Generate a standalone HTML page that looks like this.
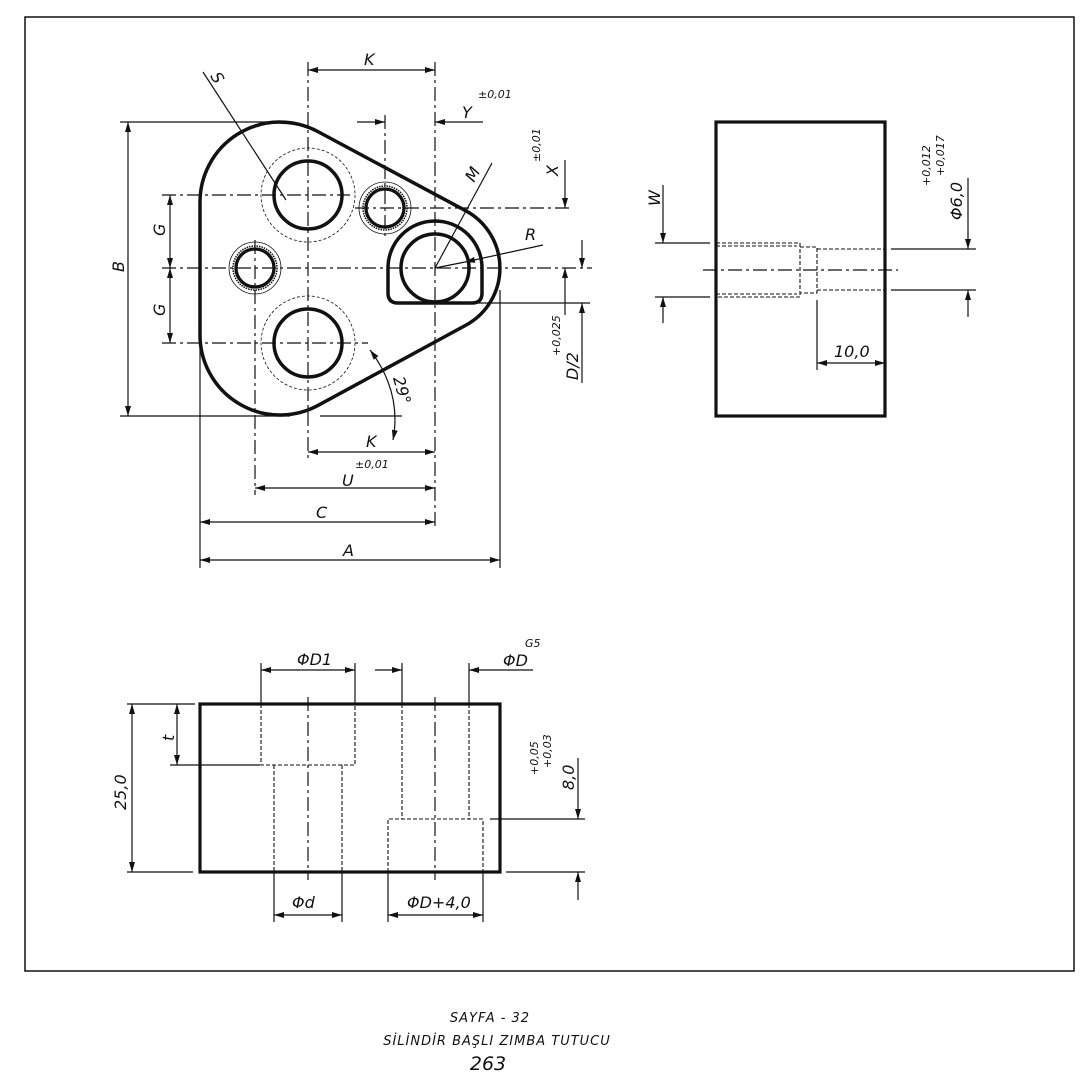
<!DOCTYPE html>
<html><head><meta charset="utf-8"><style>
html,body{margin:0;padding:0;background:#fff;}
svg{display:block;}
text{font-family:"DejaVu Sans","Liberation Sans",sans-serif;font-style:italic;fill:#111;}
</style></head><body>
<svg width="1080" height="1080" viewBox="0 0 1080 1080" xmlns="http://www.w3.org/2000/svg">
<defs>
<marker id="a" viewBox="0 0 10 6" refX="10" refY="3" markerWidth="10" markerHeight="6" orient="auto-start-reverse" markerUnits="userSpaceOnUse"><path d="M0,0 L10,3 L0,6 z" fill="#111"/></marker>
</defs>
<rect x="25" y="17" width="1049" height="954" fill="none" stroke="#111" stroke-width="1.5"/>

<!-- MAIN VIEW -->
<g stroke="#111" fill="none">
<path d="M200 202 A80 80 0 0 1 317.7 131.5 L465.6 210.7 A65 65 0 0 1 466 325.1 L318.2 405.3 A80 80 0 0 1 200 335 Z" stroke-width="3.5"/>
<circle cx="308" cy="195" r="34" stroke-width="3.5"/>
<circle cx="308" cy="343" r="34" stroke-width="3.5"/>
<circle cx="308" cy="195" r="47" stroke-width="0.8" stroke-dasharray="3,2"/>
<circle cx="308" cy="343" r="47" stroke-width="0.8" stroke-dasharray="3,2"/>
<circle cx="255" cy="268" r="19" stroke-width="3.3"/>
<circle cx="255" cy="268" r="22" stroke-width="1.5" stroke-dasharray="1.5,1"/>
<circle cx="255" cy="268" r="26" stroke-width="0.8"/>
<circle cx="385" cy="208" r="19" stroke-width="3.3"/>
<circle cx="385" cy="208" r="22" stroke-width="1.5" stroke-dasharray="1.5,1"/>
<circle cx="385" cy="208" r="26" stroke-width="0.8"/>
<circle cx="435" cy="268" r="34" stroke-width="3.5"/>
<path d="M388 268 A47 47 0 0 1 482 268 L482 293 Q482 303 472 303 L398 303 Q388 303 388 293 Z" stroke-width="3.5"/>

<g stroke-width="1.2" stroke-dasharray="14,4,3,4">
<line x1="162" y1="268" x2="592" y2="268"/>
<line x1="308" y1="62" x2="308" y2="460"/>
<line x1="435" y1="62" x2="435" y2="530"/>
<line x1="255" y1="240" x2="255" y2="495"/>
<line x1="385" y1="115" x2="385" y2="240"/>
<line x1="162" y1="195" x2="350" y2="195"/>
<line x1="162" y1="343" x2="368" y2="343"/>
<line x1="355" y1="208" x2="570" y2="208"/>
</g>
<g stroke-width="1.2">
<line x1="200" y1="335" x2="200" y2="568"/>
<line x1="500" y1="290" x2="500" y2="568"/>
<line x1="120" y1="122" x2="290" y2="122"/>
<line x1="120" y1="416" x2="290" y2="416"/>
<line x1="320" y1="416" x2="402" y2="416"/>
<line x1="465" y1="303" x2="590" y2="303"/>
<line x1="128" y1="122" x2="128" y2="416" marker-start="url(#a)" marker-end="url(#a)"/>
<line x1="170" y1="195" x2="170" y2="268" marker-start="url(#a)" marker-end="url(#a)"/>
<line x1="170" y1="268" x2="170" y2="343" marker-start="url(#a)" marker-end="url(#a)"/>
<line x1="308" y1="70" x2="435" y2="70" marker-start="url(#a)" marker-end="url(#a)"/>
<line x1="357" y1="122" x2="385" y2="122" marker-end="url(#a)"/>
<line x1="483" y1="122" x2="435" y2="122" marker-end="url(#a)"/>
<line x1="203" y1="72" x2="286" y2="200"/>
<line x1="492" y1="163" x2="435" y2="268"/>
<line x1="543" y1="245" x2="465" y2="262" marker-end="url(#a)"/>
<line x1="465" y1="262" x2="435" y2="268"/>
<line x1="565" y1="160" x2="565" y2="208" marker-end="url(#a)"/>
<line x1="565" y1="315" x2="565" y2="268" marker-end="url(#a)"/>
<line x1="582" y1="240" x2="582" y2="268" marker-end="url(#a)"/>
<line x1="582" y1="383" x2="582" y2="303" marker-end="url(#a)"/>
<path d="M370 350 Q402 392 393 440" marker-start="url(#a)" marker-end="url(#a)"/>
<line x1="308" y1="452" x2="435" y2="452" marker-start="url(#a)" marker-end="url(#a)"/>
<line x1="255" y1="488" x2="435" y2="488" marker-start="url(#a)" marker-end="url(#a)"/>
<line x1="200" y1="522" x2="435" y2="522" marker-start="url(#a)" marker-end="url(#a)"/>
<line x1="200" y1="560" x2="500" y2="560" marker-start="url(#a)" marker-end="url(#a)"/>
</g>
</g>
<g font-size="16">
<text x="364" y="65">K</text>
<text x="462" y="118">Y</text>
<text x="478" y="98" font-size="11">±0,01</text>
<text x="366" y="447">K</text>
<text x="342" y="486">U</text>
<text x="355" y="468" font-size="11">±0,01</text>
<text x="316" y="518">C</text>
<text x="343" y="556">A</text>
<text x="525" y="240">R</text>
<text transform="translate(210,76) rotate(60)">S</text>
<text transform="translate(474,183) rotate(-60)">M</text>
<text transform="translate(124,272) rotate(-90)">B</text>
<text transform="translate(165,236) rotate(-90)">G</text>
<text transform="translate(165,316) rotate(-90)">G</text>
<text transform="translate(558,176) rotate(-90)">X</text>
<text transform="translate(540,162) rotate(-90)" font-size="11">±0,01</text>
<text transform="translate(578,380) rotate(-90)">D/2</text>
<text transform="translate(560,356) rotate(-90)" font-size="11">+0,025</text>
<text transform="translate(393,378) rotate(75)">29°</text>
</g>

<!-- RIGHT VIEW -->
<g stroke="#111" fill="none">
<rect x="716" y="122" width="169" height="294" stroke-width="3.2"/>
<g stroke-width="1.1" stroke-dasharray="4,2">
<path d="M716 243 L800 243 L800 297 L716 297"/>
<path d="M716 246 L797 246 M716 294 L797 294"/>
<path d="M800 247 L817 247 L817 293 L800 293"/>
<line x1="817" y1="249" x2="885" y2="249"/>
<line x1="817" y1="290" x2="885" y2="290"/>
</g>
<line x1="703" y1="270" x2="898" y2="270" stroke-width="1.2" stroke-dasharray="14,4,3,4"/>
<g stroke-width="1.2">
<line x1="655" y1="243" x2="710" y2="243"/>
<line x1="655" y1="297" x2="710" y2="297"/>
<line x1="663" y1="185" x2="663" y2="243" marker-end="url(#a)"/>
<line x1="663" y1="323" x2="663" y2="297" marker-end="url(#a)"/>
<line x1="891" y1="249" x2="976" y2="249"/>
<line x1="891" y1="290" x2="976" y2="290"/>
<line x1="968" y1="178" x2="968" y2="249" marker-end="url(#a)"/>
<line x1="968" y1="317" x2="968" y2="290" marker-end="url(#a)"/>
<line x1="817" y1="300" x2="817" y2="370"/>
<line x1="817" y1="363" x2="885" y2="363" marker-start="url(#a)" marker-end="url(#a)"/>
</g>
</g>
<g font-size="16">
<text transform="translate(660,206) rotate(-90)">W</text>
<text transform="translate(962,220) rotate(-90)">Φ6,0</text>
<text transform="translate(930,186) rotate(-90)" font-size="11">+0,012</text>
<text transform="translate(944,176) rotate(-90)" font-size="11">+0,017</text>
<text x="834" y="357">10,0</text>
</g>

<!-- BOTTOM VIEW -->
<g stroke="#111" fill="none">
<rect x="200" y="704" width="300" height="168" stroke-width="3.2"/>
<g stroke-width="1.1" stroke-dasharray="4,2">
<path d="M261 704 L261 765 L355 765 L355 704"/>
<line x1="274" y1="765" x2="274" y2="872"/>
<line x1="342" y1="765" x2="342" y2="872"/>
<line x1="402" y1="704" x2="402" y2="819"/>
<line x1="469" y1="704" x2="469" y2="819"/>
<path d="M388 872 L388 819 L483 819 L483 872"/>
</g>
<g stroke-width="1.2" stroke-dasharray="14,4,3,4">
<line x1="308" y1="697" x2="308" y2="880"/>
<line x1="435" y1="697" x2="435" y2="880"/>
</g>
<g stroke-width="1.2">
<line x1="261" y1="663" x2="261" y2="704"/>
<line x1="355" y1="663" x2="355" y2="704"/>
<line x1="261" y1="670" x2="355" y2="670" marker-start="url(#a)" marker-end="url(#a)"/>
<line x1="402" y1="663" x2="402" y2="704"/>
<line x1="469" y1="663" x2="469" y2="704"/>
<line x1="375" y1="670" x2="402" y2="670" marker-end="url(#a)"/>
<line x1="533" y1="670" x2="469" y2="670" marker-end="url(#a)"/>
<line x1="127" y1="704" x2="195" y2="704"/>
<line x1="127" y1="872" x2="193" y2="872"/>
<line x1="170" y1="765" x2="260" y2="765"/>
<line x1="177" y1="704" x2="177" y2="765" marker-start="url(#a)" marker-end="url(#a)"/>
<line x1="132" y1="704" x2="132" y2="872" marker-start="url(#a)" marker-end="url(#a)"/>
<line x1="490" y1="819" x2="585" y2="819"/>
<line x1="506" y1="872" x2="585" y2="872"/>
<line x1="578" y1="758" x2="578" y2="819" marker-end="url(#a)"/>
<line x1="578" y1="900" x2="578" y2="872" marker-end="url(#a)"/>
<line x1="274" y1="872" x2="274" y2="922"/>
<line x1="342" y1="872" x2="342" y2="922"/>
<line x1="274" y1="915" x2="342" y2="915" marker-start="url(#a)" marker-end="url(#a)"/>
<line x1="388" y1="872" x2="388" y2="922"/>
<line x1="483" y1="872" x2="483" y2="922"/>
<line x1="388" y1="915" x2="483" y2="915" marker-start="url(#a)" marker-end="url(#a)"/>
</g>
</g>
<g font-size="16">
<text x="297" y="665">ΦD1</text>
<text x="503" y="666">ΦD</text>
<text x="525" y="647" font-size="11">G5</text>
<text transform="translate(174,741) rotate(-90)">t</text>
<text transform="translate(126,810) rotate(-90)">25,0</text>
<text transform="translate(574,790) rotate(-90)">8,0</text>
<text transform="translate(538,775) rotate(-90)" font-size="11">+0,05</text>
<text transform="translate(551,768) rotate(-90)" font-size="11">+0,03</text>
<text x="292" y="908">Φd</text>
<text x="407" y="908">ΦD+4,0</text>
</g>

<g text-anchor="middle">
<text x="490" y="1022" font-size="13" letter-spacing="1">SAYFA - 32</text>
<text x="497" y="1045" font-size="13" letter-spacing="1">SİLİNDİR BAŞLI ZIMBA TUTUCU</text>
<text x="488" y="1070" font-size="19">263</text>
</g>
</svg>
</body></html>
